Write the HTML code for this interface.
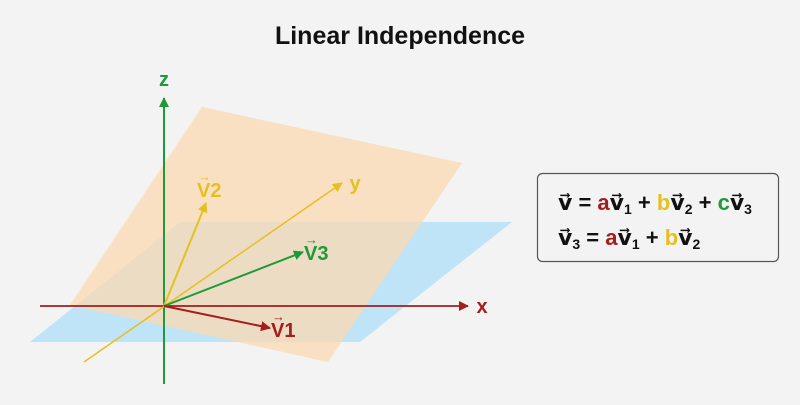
<!DOCTYPE html>
<html><head><meta charset="utf-8"><style>
body{margin:0;width:800px;height:400px;background:#f3f3f3;overflow:hidden;font-family:"Liberation Sans","DejaVu Sans",sans-serif}
</style></head><body>
<svg width="800" height="400" viewBox="0 0 800 400" xmlns="http://www.w3.org/2000/svg">
<defs>
<marker id="mr" markerWidth="10" markerHeight="10" refX="9" refY="5" orient="auto" markerUnits="userSpaceOnUse"><path d="M0,0 L10,5 L0,10 z" fill="#a51d1d"/></marker>
<marker id="mg" markerWidth="10" markerHeight="10" refX="9" refY="5" orient="auto" markerUnits="userSpaceOnUse"><path d="M0,0 L10,5 L0,10 z" fill="#1e9a3a"/></marker>
<marker id="my" markerWidth="10" markerHeight="10" refX="9" refY="5" orient="auto" markerUnits="userSpaceOnUse"><path d="M0,0 L10,5 L0,10 z" fill="#e5c020"/></marker>
</defs>
<text x="400" y="44" text-anchor="middle" font-size="25" font-weight="bold" fill="#111">Linear Independence</text>
<polygon points="180,222 512,222 360,342 30,342" fill="#bfe3f7"/>
<polygon points="202,107 462,163 328,362 70,305" fill="#fbd9b2" opacity="0.75"/>
<line x1="164" y1="384" x2="164" y2="98" stroke="#1e9a3a" stroke-width="2" marker-end="url(#mg)"/>
<line x1="40" y1="306" x2="468" y2="306" stroke="#a51d1d" stroke-width="1.8" marker-end="url(#mr)"/>
<line x1="84" y1="362" x2="342" y2="183" stroke="#e5c020" stroke-width="1.5" marker-end="url(#my)"/>
<line x1="164" y1="306" x2="206" y2="203" stroke="#e5c020" stroke-width="2" marker-end="url(#my)"/>
<line x1="164" y1="306" x2="303" y2="252" stroke="#1e9a3a" stroke-width="2" marker-end="url(#mg)"/>
<line x1="164" y1="306" x2="270" y2="328" stroke="#a51d1d" stroke-width="2" marker-end="url(#mr)"/>
<g font-weight="bold" font-size="20">
<text x="164" y="86" text-anchor="middle" fill="#1e9a3a">z</text>
<text x="482" y="313" text-anchor="middle" fill="#a51d1d">x</text>
<text x="355" y="190" text-anchor="middle" fill="#e5c020">y</text>
<text x="197" y="197" fill="#e5c020">V2</text><text x="198" y="181" font-size="13" fill="#e5c020">→</text>
<text x="304" y="260" fill="#1e9a3a">V3</text><text x="305" y="244" font-size="13" fill="#1e9a3a">→</text>
<text x="271" y="337" fill="#a51d1d">V1</text><text x="272" y="321" font-size="13" fill="#a51d1d">→</text>
</g>
<rect x="537.5" y="173.5" width="241" height="88" rx="5" fill="#f3f3f3" stroke="#555" stroke-width="1.2"/>
<g font-size="22" font-weight="bold" fill="#111">
<text x="558" y="210">v⃗ = <tspan fill="#a51d1d">a</tspan>v⃗<tspan font-size="14" dy="4">1</tspan><tspan dy="-4"> + </tspan><tspan fill="#e5c020">b</tspan>v⃗<tspan font-size="14" dy="4">2</tspan><tspan dy="-4"> + </tspan><tspan fill="#1e9a3a">c</tspan>v⃗<tspan font-size="14" dy="4">3</tspan></text>
<text x="558" y="245">v⃗<tspan font-size="14" dy="4">3</tspan><tspan dy="-4"> = </tspan><tspan fill="#a51d1d">a</tspan>v⃗<tspan font-size="14" dy="4">1</tspan><tspan dy="-4"> + </tspan><tspan fill="#e5c020">b</tspan>v⃗<tspan font-size="14" dy="4">2</tspan></text>
</g>
</svg>
</body></html>
